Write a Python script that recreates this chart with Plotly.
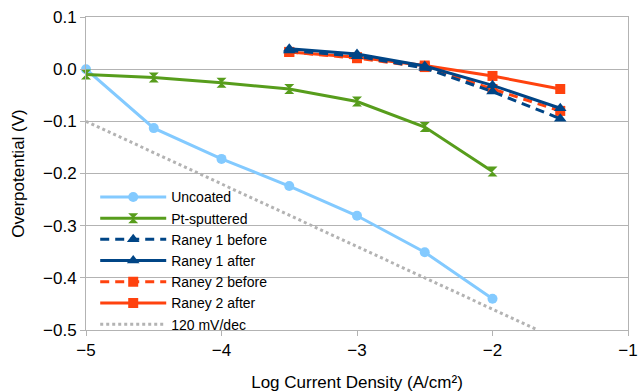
import plotly.graph_objects as go

x_uncoated = [-5, -4.5, -4, -3.5, -3, -2.5, -2]
y_uncoated = [0.0, -0.113, -0.172, -0.224, -0.281, -0.351, -0.440]

x_pt = [-5, -4.5, -4, -3.5, -3, -2.5, -2]
y_pt = [-0.010, -0.016, -0.026, -0.038, -0.062, -0.111, -0.196]

x_raney = [-3.5, -3, -2.5, -2, -1.5]
y_r1_before = [0.036, 0.025, 0.002, -0.043, -0.095]
y_r1_after = [0.039, 0.029, 0.006, -0.031, -0.075]
y_r2_before = [0.033, 0.021, 0.004, -0.038, -0.080]
y_r2_after = [0.033, 0.023, 0.007, -0.013, -0.038]

x_ref = [-5, -1.6667]
y_ref = [-0.1, -0.5]

BLUE_L = "#83CAFF"
GREEN = "#579D1C"
BLUE_D = "#004586"
ORANGE = "#FF420E"
GRAY = "#B3B3B3"
DASH = "9px,6px"

fig = go.Figure()
fig.add_trace(go.Scatter(x=x_ref, y=y_ref, name="120 mV/dec", mode="lines", legendrank=7,
                         line=dict(color=GRAY, width=3, dash="dot")))
fig.add_trace(go.Scatter(x=x_uncoated, y=y_uncoated, name="Uncoated", mode="lines+markers", legendrank=1,
                         line=dict(color=BLUE_L, width=3), marker=dict(symbol="circle", size=10)))
fig.add_trace(go.Scatter(x=x_pt, y=y_pt, name="Pt-sputtered", mode="lines+markers", legendrank=2,
                         line=dict(color=GREEN, width=3), marker=dict(symbol="hourglass", size=10)))
fig.add_trace(go.Scatter(x=x_raney, y=y_r2_before, name="Raney 2 before", mode="lines+markers", legendrank=5,
                         line=dict(color=ORANGE, width=3, dash=DASH), marker=dict(symbol="square", size=10)))
fig.add_trace(go.Scatter(x=x_raney, y=y_r2_after, name="Raney 2 after", mode="lines+markers", legendrank=6,
                         line=dict(color=ORANGE, width=3), marker=dict(symbol="square", size=10)))
fig.add_trace(go.Scatter(x=x_raney, y=y_r1_before, name="Raney 1 before", mode="lines+markers", legendrank=3,
                         line=dict(color=BLUE_D, width=3, dash=DASH), marker=dict(symbol="triangle-up", size=11)))
fig.add_trace(go.Scatter(x=x_raney, y=y_r1_after, name="Raney 1 after", mode="lines+markers", legendrank=4,
                         line=dict(color=BLUE_D, width=3), marker=dict(symbol="triangle-up", size=11)))

fig.update_traces(cliponaxis=False)

fig.update_layout(
    width=638, height=392,
    margin=dict(l=86, r=10, t=17, b=62, autoexpand=False),
    paper_bgcolor="white", plot_bgcolor="white",
    font=dict(family="Liberation Sans, Arial, sans-serif", size=17, color="#000000"),
    showlegend=True,
    legend=dict(x=0.017, y=0.475, xanchor="left", yanchor="top", bgcolor="rgba(0,0,0,0)",
                font=dict(size=14), itemwidth=66, tracegroupgap=0, traceorder="normal"),
    xaxis=dict(range=[-5, -1], dtick=1, tick0=-5, showgrid=False, zeroline=False, automargin=False,
               showline=True, linecolor=GRAY, linewidth=1, mirror=True,
               ticks="outside", ticklen=5, tickcolor=GRAY, tickfont=dict(size=17),
               title=dict(text="Log Current Density (A/cm²)", font=dict(size=17), standoff=16)),
    yaxis=dict(range=[-0.5, 0.1], dtick=0.1, tick0=-0.5, tickformat=".1f", automargin=False,
               showgrid=True, gridcolor=GRAY, gridwidth=1, zeroline=False,
               showline=True, linecolor=GRAY, linewidth=1, mirror=True,
               ticks="outside", ticklen=5, tickcolor=GRAY, tickfont=dict(size=17),
               title=dict(text="Overpotential (V)", font=dict(size=17), standoff=14)),
)

fig.write_html("out.html")
